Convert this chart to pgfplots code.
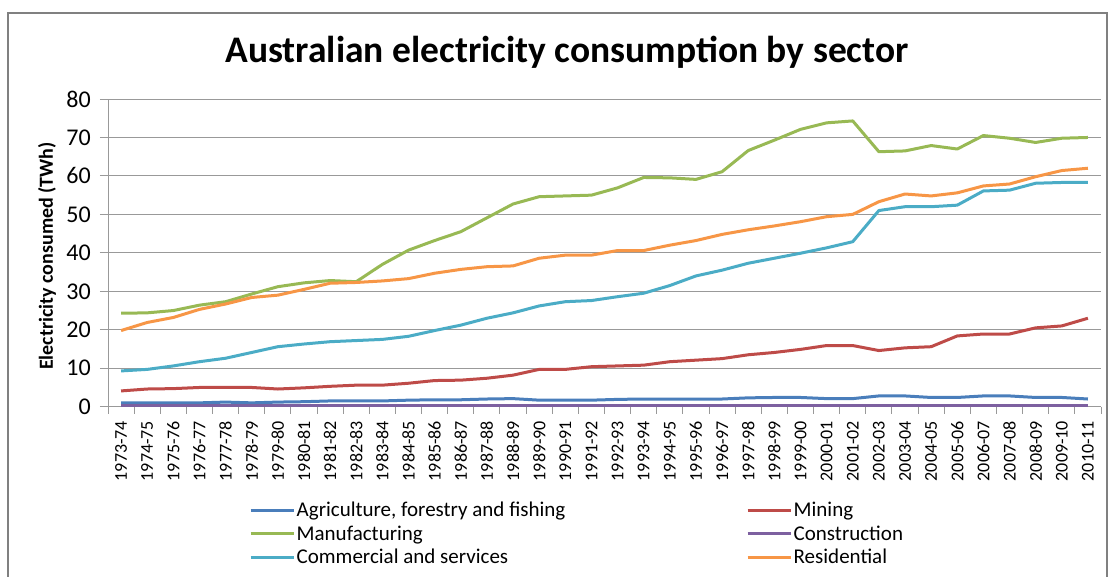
\documentclass[border=0pt]{standalone}
\usepackage{fontspec}
\setmainfont{Carlito}
\usepackage{pgfplots}
\usepackage{pgfplotstable}
\pgfplotsset{compat=1.18}
\definecolor{cAg}{HTML}{4A7EBB}
\definecolor{cMin}{HTML}{BE4B48}
\definecolor{cMan}{HTML}{98B954}
\definecolor{cCon}{HTML}{7D60A0}
\definecolor{cCom}{HTML}{4BACC6}
\definecolor{cRes}{HTML}{F79646}
\pgfplotstableread{
i label Ag Min Man Con Com Res
0 1973-74 1.0 4.1 24.3 0.3 9.3 19.8
1 1974-75 1.0 4.6 24.4 0.3 9.7 21.9
2 1975-76 1.0 4.7 25.0 0.3 10.6 23.2
3 1976-77 1.0 5.0 26.4 0.3 11.7 25.3
4 1977-78 1.2 5.0 27.3 0.3 12.6 26.7
5 1978-79 1.0 5.0 29.3 0.3 14.1 28.4
6 1979-80 1.2 4.6 31.2 0.3 15.6 29.0
7 1980-81 1.3 4.9 32.2 0.3 16.3 30.5
8 1981-82 1.5 5.3 32.8 0.3 16.9 32.1
9 1982-83 1.5 5.6 32.5 0.3 17.2 32.3
10 1983-84 1.5 5.6 37.0 0.3 17.5 32.7
11 1984-85 1.7 6.1 40.7 0.3 18.3 33.3
12 1985-86 1.8 6.8 43.2 0.3 19.8 34.7
13 1986-87 1.8 6.9 45.5 0.3 21.2 35.7
14 1987-88 2.0 7.4 49.1 0.3 23.0 36.4
15 1988-89 2.1 8.2 52.7 0.3 24.4 36.6
16 1989-90 1.7 9.7 54.6 0.3 26.2 38.6
17 1990-91 1.7 9.7 54.8 0.3 27.3 39.4
18 1991-92 1.7 10.4 55.0 0.3 27.6 39.4
19 1992-93 1.9 10.6 56.9 0.3 28.6 40.6
20 1993-94 2.0 10.8 59.6 0.3 29.5 40.6
21 1994-95 2.0 11.7 59.5 0.3 31.5 42.0
22 1995-96 2.0 12.1 59.1 0.3 34.0 43.2
23 1996-97 2.0 12.5 61.1 0.3 35.5 44.8
24 1997-98 2.3 13.5 66.6 0.3 37.3 46.0
25 1998-99 2.4 14.1 69.3 0.3 38.6 47.0
26 1999-00 2.4 14.9 72.1 0.3 39.9 48.1
27 2000-01 2.1 15.9 73.8 0.3 41.3 49.4
28 2001-02 2.1 15.9 74.3 0.3 42.9 50.0
29 2002-03 2.8 14.6 66.3 0.3 51.0 53.3
30 2003-04 2.8 15.3 66.5 0.3 52.0 55.3
31 2004-05 2.4 15.6 67.9 0.3 52.0 54.8
32 2005-06 2.4 18.4 67.0 0.3 52.4 55.6
33 2006-07 2.8 18.9 70.5 0.3 56.1 57.4
34 2007-08 2.8 18.9 69.8 0.3 56.3 57.9
35 2008-09 2.4 20.5 68.7 0.3 58.1 59.8
36 2009-10 2.4 21.0 69.8 0.3 58.3 61.4
37 2010-11 2.0 23.0 70.0 0.3 58.3 62.0
}\data
\begin{document}
\begin{tikzpicture}
\useasboundingbox (0pt,0pt) rectangle (1109pt,576pt);
\draw[line width=1.5pt, draw=black!50] (8pt,-20pt) rectangle (1107pt,563pt);
\node[anchor=base, font=\bfseries\fontsize{37.5}{44}\selectfont] at (567pt,513pt) {Australian electricity consumption by sector};
\node[rotate=90, font=\bfseries\fontsize{20}{24}\selectfont] at (47pt,320pt) {Electricity consumed (TWh)};
\begin{axis}[
  at={(108pt,169.3pt)}, anchor=south west,
  scale only axis, width=993pt, height=307.7pt,
  xmin=-0.5, xmax=37.5, ymin=0, ymax=80,
  axis x line*=bottom, axis y line*=left,
  axis line style={draw=black!40, line width=1pt},
  ytick={0,10,...,80},
  ymajorgrids, grid style={draw=black!40, line width=1pt},
  tick align=outside,
  ytick style={draw=black!40, line width=1pt},
  major tick length=8pt,
  xtick={0,...,37},
  xticklabels from table={\data}{label},
  xtick style={draw=none},
  minor xtick={-0.5,0.5,...,37.5},
  minor x tick style={draw=black!40, line width=1pt},
  minor tick length=7pt,
  /pgf/number format/assume math mode=true,
  yticklabel style={font=\fontsize{24}{28}\selectfont, inner sep=0pt, anchor=east},
  yticklabel shift=9pt,
  xticklabel style={font=\fontsize{18}{22}\selectfont, rotate=90, anchor=east, inner sep=0pt},
  xticklabel shift=6pt,
  legend columns=2,
  legend cell align=left,
  legend style={at={(axis description cs:0.142,-0.305)}, anchor=north west, draw=none, fill=none,
    inner sep=0pt, column sep=0pt, row sep=4.5pt, font=\fontsize{21}{24}\selectfont,
    nodes={inner sep=1.5pt}},
  legend image code/.code={\draw[#1, line width=3pt] (0pt,0pt) -- (43pt,0pt);},
  every axis plot/.append style={line width=3pt, line join=round},
]
\addplot[cAg] table[x=i, y=Ag] {\data};
\addlegendentry{\makebox[448pt][l]{Agriculture, forestry and fishing}}
\addplot[cMin] table[x=i, y=Min] {\data};
\addlegendentry{Mining}
\addplot[cMan] table[x=i, y=Man] {\data};
\addlegendentry{\makebox[448pt][l]{Manufacturing}}
\addplot[cCon] table[x=i, y=Con] {\data};
\addlegendentry{Construction}
\addplot[cCom] table[x=i, y=Com] {\data};
\addlegendentry{\makebox[448pt][l]{Commercial and services}}
\addplot[cRes] table[x=i, y=Res] {\data};
\addlegendentry{Residential}
\end{axis}
\end{tikzpicture}
\end{document}
